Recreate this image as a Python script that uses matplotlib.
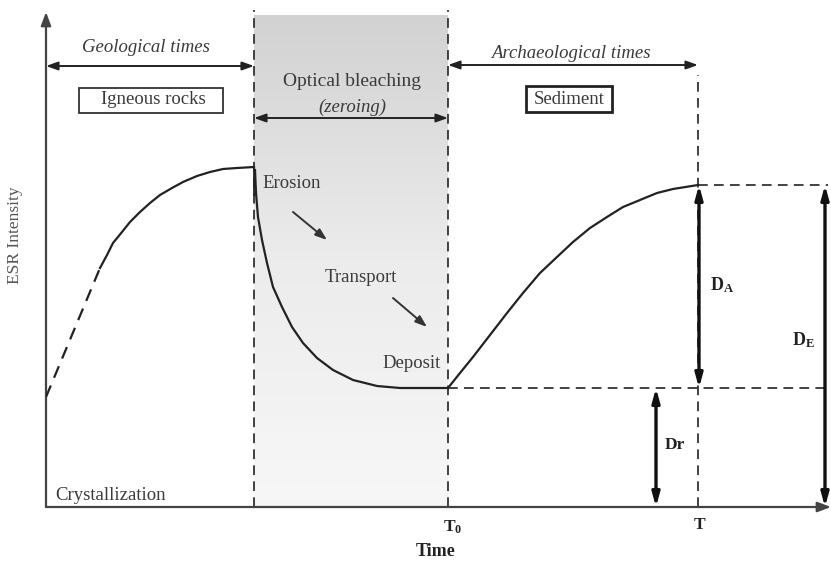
import matplotlib
matplotlib.use("Agg")
import matplotlib.pyplot as plt
import numpy as np
from matplotlib.patches import Rectangle
from matplotlib.colors import LinearSegmentedColormap

plt.rcParams['font.family'] = ['Liberation Serif', 'DejaVu Serif']
plt.rcParams['mathtext.fontset'] = 'custom'
plt.rcParams['mathtext.rm'] = 'Liberation Serif'
plt.rcParams['mathtext.bf'] = 'Liberation Serif:bold'
plt.rcParams['mathtext.it'] = 'Liberation Serif:italic'
plt.rcParams['lines.scale_dashes'] = False

# ---- data (time units, ESR intensity units) ----
growth_dashed_t = [0, 54]
growth_dashed_i = [110, 239]
growth_t = [54, 61, 67, 76, 84, 94, 104, 114, 126, 137, 151, 164, 177, 191, 208]
growth_i = [239, 252, 264, 275, 285, 295, 304, 312, 319, 325, 331, 335, 338, 339, 340]
bleach_t = [209, 210, 212, 216, 221, 227, 236, 246, 257, 271, 287, 307, 331, 354, 377, 402]
bleach_i = [337, 314, 290, 267, 244, 220, 200, 180, 164, 149, 137, 127, 121, 119, 119, 119]
regrowth_t = [402, 414, 427, 444, 461, 477, 494, 511, 527, 544, 561, 577, 594, 611, 627, 652]
regrowth_i = [119, 134, 150, 172, 194, 214, 234, 250, 265, 279, 290, 300, 307, 314, 318, 322]

t_erosion = 208     # start of optical bleaching
t_zero = 402        # T0 (deposit)
t_now = 652         # T
level_res = 119     # residual level (Dr)
level_now = 322     # present intensity
t_max = 785
i_max = 507

fig = plt.figure(figsize=(8.31, 5.61), dpi=100)
ax = fig.add_axes([46/831, (561-507)/561, 785/831, 507/561])
ax.set_xlim(0, t_max)
ax.set_ylim(0, i_max)
ax.axis('off')

line_c = '#222222'
text_c = '#3a3a3a'

# shaded bleaching region (gradient)
grad = np.linspace(0, 1, 256).reshape(-1, 1)
cmap = LinearSegmentedColormap.from_list('g', ['#f7f7f7', '#ececec', '#d2d2d2'])
ax.imshow(grad, extent=[t_erosion, t_zero, 0, 492], origin='lower', cmap=cmap,
          aspect='auto', zorder=0, interpolation='bicubic')

# axes arrows
ax.annotate('', xy=(0, 495), xytext=(0, 0),
            arrowprops=dict(arrowstyle='-|>,head_length=0.8,head_width=0.3',
                            color='#444444', lw=1.6, shrinkA=0, shrinkB=0),
            annotation_clip=False)
ax.annotate('', xy=(t_max, 0), xytext=(0, 0),
            arrowprops=dict(arrowstyle='-|>,head_length=0.8,head_width=0.3',
                            color='#444444', lw=1.6, shrinkA=0, shrinkB=0),
            annotation_clip=False)

dash = (7, 4.5)
# vertical dashed lines
ax.plot([t_erosion, t_erosion], [0, 497], color=line_c, lw=1.2, dashes=dash, zorder=2)
ax.plot([t_zero, t_zero], [0, 497], color=line_c, lw=1.2, dashes=dash, zorder=2)
ax.plot([t_now, t_now], [0, 432], color=line_c, lw=1.2, dashes=dash, zorder=2)
# horizontal dashed lines
ax.plot([t_zero, 782], [level_res, level_res], color=line_c, lw=1.2, dashes=dash, zorder=2)
ax.plot([t_now, 782], [level_now, level_now], color=line_c, lw=1.2, dashes=dash, zorder=2)

# curves
ax.plot(growth_dashed_t, growth_dashed_i, color=line_c, lw=1.6, dashes=(9, 6), zorder=3)
ax.plot(growth_t, growth_i, color=line_c, lw=1.6, zorder=3, solid_joinstyle='round')
ax.plot([t_erosion, t_erosion], [growth_i[-1], 312], color=line_c, lw=1.3, zorder=3)
ax.plot(bleach_t, bleach_i, color=line_c, lw=1.6, zorder=3, solid_joinstyle='round')
ax.plot(regrowth_t, regrowth_i, color=line_c, lw=1.6, zorder=3, solid_joinstyle='round')

# period arrows
dbl = dict(arrowstyle='<|-|>,head_length=0.7,head_width=0.25', color=line_c,
           lw=1.4, shrinkA=0, shrinkB=0)
ax.annotate('', xy=(0, 441), xytext=(t_erosion, 441), arrowprops=dbl, annotation_clip=False)
ax.annotate('', xy=(t_zero, 442), xytext=(t_now, 442), arrowprops=dbl, annotation_clip=False)
ax.annotate('', xy=(t_erosion, 389), xytext=(t_zero, 389), arrowprops=dbl, annotation_clip=False)

# dose arrows
dose = dict(arrowstyle='<|-|>,head_length=0.8,head_width=0.22', color='#111111',
            lw=2.4, shrinkA=0, shrinkB=0)
ax.annotate('', xy=(t_now + 1, level_res), xytext=(t_now + 1, level_now), arrowprops=dose)
ax.annotate('', xy=(779, 0), xytext=(779, level_now), arrowprops=dose)
ax.annotate('', xy=(610, 0), xytext=(610, level_res), arrowprops=dose)

# process arrows
proc = dict(arrowstyle='-|>,head_length=0.7,head_width=0.25', color='#333333', lw=1.4,
            shrinkA=0, shrinkB=0)
ax.annotate('', xy=(281, 267), xytext=(247, 295), arrowprops=proc)
ax.annotate('', xy=(381, 180), xytext=(347, 209), arrowprops=proc)

# texts
fs = 13.5
ax.text(100, 459, 'Geological times', style='italic', fontsize=fs, color=text_c,
        ha='center', va='center')
ax.add_patch(Rectangle((33, 394), 144, 25, fill=False, ec='#333333', lw=1.3, zorder=4))
ax.text(107, 407, 'Igneous rocks', fontsize=fs, color=text_c, ha='center', va='center')
ax.text(306, 425, 'Optical bleaching', fontsize=14, color=text_c, ha='center', va='center')
ax.text(306, 400, '(zeroing)', style='italic', fontsize=fs, color=text_c,
        ha='center', va='center')
ax.text(525, 453, 'Archaeological times', style='italic', fontsize=fs, color=text_c,
        ha='center', va='center')
ax.add_patch(Rectangle((480, 395), 86, 26, fill=False, ec='#222222', lw=2.0, zorder=4))
ax.text(523, 408, 'Sediment', fontsize=fs, color=text_c, ha='center', va='center')
ax.text(216, 324, 'Erosion', fontsize=fs, color=text_c, ha='left', va='center')
ax.text(315, 230, 'Transport', fontsize=fs, color=text_c, ha='center', va='center')
ax.text(366, 144, 'Deposit', fontsize=fs, color=text_c, ha='center', va='center')
ax.text(9, 12, 'Crystallization', fontsize=fs, color=text_c, ha='left', va='center')
ax.text(-31, 272, 'ESR Intensity', fontsize=12.5, color='#555555', rotation=90,
        ha='center', va='center', clip_on=False)

ax.text(676, 222, r'$\mathbf{D_A}$', fontsize=13, color='#222222', ha='center', va='center')
ax.text(757, 167, r'$\mathbf{D_E}$', fontsize=13, color='#222222', ha='center', va='center')
ax.text(629, 62, 'Dr', fontsize=12.5, fontweight='bold', color='#222222', ha='center', va='center')
ax.text(t_zero + 5, -20, r'$\mathbf{T_0}$', fontsize=12.5, color='#222222', ha='center',
        va='center', clip_on=False)
ax.text(t_now + 2, -18, 'T', fontsize=12.5, fontweight='bold', color='#222222', ha='center',
        va='center', clip_on=False)
ax.text(390, -44, 'Time', fontsize=13, fontweight='bold', color='#222222', ha='center',
        va='center', clip_on=False)

fig.savefig('out.png', dpi=100)
